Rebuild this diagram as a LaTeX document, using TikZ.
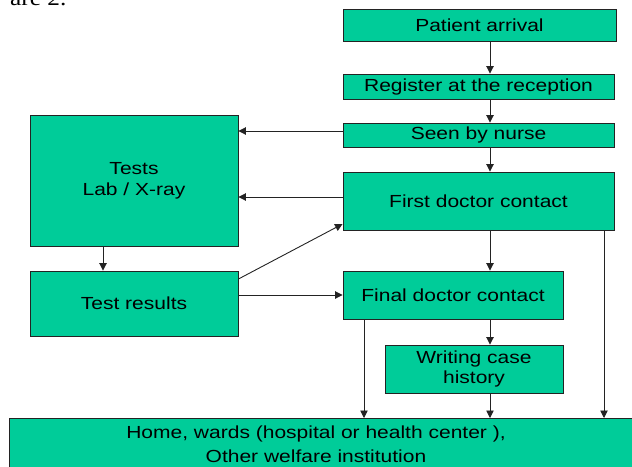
\documentclass[tikz,border=0pt]{standalone}
\usepackage{fontspec}
\setmainfont{Liberation Sans}[FakeStretch=1.2]
\newfontfamily\serifx{Liberation Serif}[FakeStretch=1.15]
\usetikzlibrary{arrows.meta}
\definecolor{boxgreen}{RGB}{0,204,153}
\definecolor{edge}{RGB}{35,35,35}
\tikzset{
 stepbox/.style={draw=edge, line width=0.9pt, fill=boxgreen, inner sep=0pt, align=center, font=\fontsize{17.5}{21}\selectfont, text=black},
 arr/.style={draw=edge, line width=0.9pt, -{Triangle[length=7.5pt,width=7.5pt]}},
}
\begin{document}
\begin{tikzpicture}[x=1pt,y=-1pt]
\useasboundingbox (0,0) rectangle (632,466);
\clip (0,0) rectangle (632,466);
\node[anchor=base west, inner sep=0pt, font=\serifx\fontsize{22}{26}\selectfont] (frag) at (10,5.5) {are 2.};
\node[stepbox, minimum width=273pt, minimum height=32pt] (pa) at (479.5,25) {Patient arrival};
\node[stepbox, minimum width=271pt, minimum height=25pt] (reg) at (478.5,86.5) {Register at the reception};
\node[stepbox, minimum width=271pt, minimum height=24pt] (nurse) at (478.5,135) {Seen by nurse};
\node[stepbox, minimum width=208pt, minimum height=131pt] (tests) at (134,180.5) {Tests\\Lab / X-ray};
\node[stepbox, minimum width=271pt, minimum height=58pt] (first) at (478.5,201) {First doctor contact};
\node[stepbox, minimum width=208pt, minimum height=65pt] (results) at (134,303.5) {Test results};
\node[stepbox, minimum width=220pt, minimum height=48pt] (final) at (453,295) {Final doctor contact};
\node[stepbox, minimum width=178pt, minimum height=48pt, font=\fontsize{17.5}{20}\selectfont] (writing) at (474,369) {Writing case\\history};
\node[stepbox, minimum width=640pt, minimum height=70pt, anchor=north west] (home) at (9,418) {};
\node[align=center, inner sep=0pt, font=\fontsize{17.5}{24}\selectfont, text=black] (hometext) at (316,444) {Home, wards (hospital or health center ),\\Other welfare institution};
\coordinate (cx) at (490,0);
\draw[arr] (pa.south -| cx) -- (reg.north -| cx);
\draw[arr] (reg.south -| cx) -- (nurse.north -| cx);
\draw[arr] (nurse.south -| cx) -- (first.north -| cx);
\draw[arr] (first.south -| cx) -- (final.north -| cx);
\draw[arr] (final.south -| cx) -- (writing.north -| cx);
\draw[arr] (writing.south -| cx) -- (home.north -| cx);
\coordinate (ya) at (0,131);
\draw[arr] (nurse.west |- ya) -- (tests.east |- ya);
\coordinate (yb) at (0,197);
\draw[arr] (first.west |- yb) -- (tests.east |- yb);
\coordinate (cl) at (103,0);
\draw[arr] (tests.south -| cl) -- (results.north -| cl);
\coordinate (yc) at (0,279);
\coordinate (yd) at (0,224);
\draw[arr] (results.east |- yc) -- (first.west |- yd);
\draw[arr] (results.east |- final.west) -- (final.west);
\coordinate (cr) at (604,0);
\draw[arr] (first.south -| cr) -- (home.north -| cr);
\coordinate (cm) at (364,0);
\draw[arr] (final.south -| cm) -- (home.north -| cm);
\end{tikzpicture}
\end{document}
